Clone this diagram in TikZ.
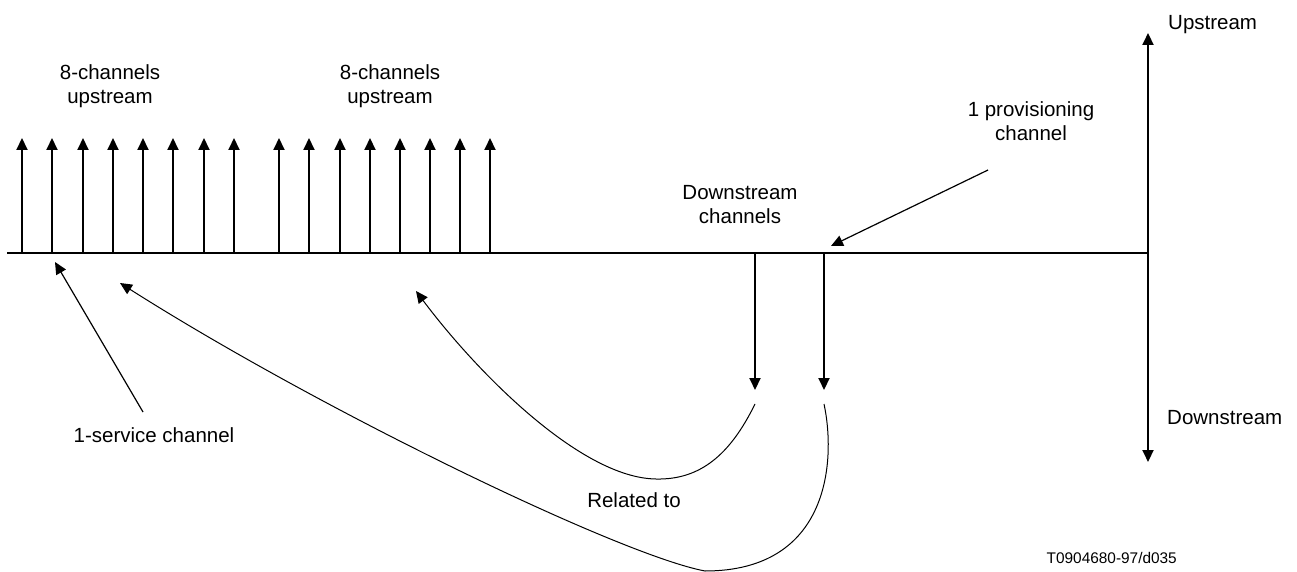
\documentclass[tikz,border=0pt]{standalone}
\usepackage{fontspec}
\setmainfont{Liberation Sans}
\usetikzlibrary{arrows.meta}

\begin{document}
\begin{tikzpicture}[x=1pt,y=-1pt,>={Triangle[length=12pt,width=11pt]}]
\tikzstyle{lbl}=[align=center,inner sep=0pt,font=\fontsize{20.5}{24}\selectfont]
\tikzstyle{small}=[inner sep=0pt,font=\fontsize{15.4}{18}\selectfont]
\tikzstyle{axis}=[line width=2pt]
\tikzstyle{thin}=[line width=1pt]
\useasboundingbox (0,0) rectangle (1297,572);
% frequency axis and direction axis
\coordinate (bl) at (7,253);
\coordinate (ax) at (1148,253);
\coordinate (axt) at (1148,33);
\coordinate (axb) at (1148,462);
\draw[axis] (bl) -- (ax);
\draw[axis,<->] (axb) -- (axt);
% upstream channels
\foreach \x [count=\i] in {22,52,83,113,143,173,204,234,279,309,340,370,400,430,460,490} {
  \coordinate (f\i) at (\x,253);
  \coordinate (t\i) at (\x,138);
  \draw[axis,->] (f\i) -- (t\i);
}
% downstream channels
\coordinate (d1) at (755,253);
\coordinate (d1t) at (755,390);
\coordinate (d2) at (824,253);
\coordinate (d2t) at (824,390);
\draw[axis,->] (d1) -- (d1t);
\draw[axis,->] (d2) -- (d2t);
% labels
\node[lbl] (grpa) at (110,86) {8-channels\\upstream};
\node[lbl] (grpb) at (390,86) {8-channels\\upstream};
\node[lbl] (dsch) at (740,205) {Downstream\\channels};
\node[lbl] (prov) at (1031,121) {1 provisioning\\channel};
\node[lbl] (svc) at (154,435) {1-service channel};
\node[lbl] (rel) at (634,500) {Related to};
\node[lbl,anchor=west] (upl) at (1168,25) {Upstream};
\node[lbl,anchor=west] (dnl) at (1167,418) {Downstream};
\node[small,anchor=east] (fig) at (1177,558) {T0904680-97/d035};
% pointers
\coordinate (svctail) at (143,412);
\coordinate (svctip) at (55,262);
\draw[line width=1.2pt,->] (svctail) -- (svctip);
\coordinate (provtail) at (988,170);
\coordinate (provtip) at (831,246);
\draw[line width=1.2pt,->] (provtail) -- (provtip);
% related-to curves
\coordinate (c1s) at (755,404);
\coordinate (c1b) at (656,479);
\coordinate (c1e) at (416,291);
\draw[thin,->] (c1s) .. controls (730,455) and (700,480) .. (c1b)
  .. controls (580,478) and (475,370) .. (c1e);
\coordinate (c2s) at (824,404);
\coordinate (c2b) at (705,571);
\coordinate (c2e) at (120,283);
\draw[thin,->] (c2s) .. controls (836,460) and (830,571) .. (c2b)
  .. controls (620,555) and (320,410) .. (c2e);
\end{tikzpicture}
\end{document}
